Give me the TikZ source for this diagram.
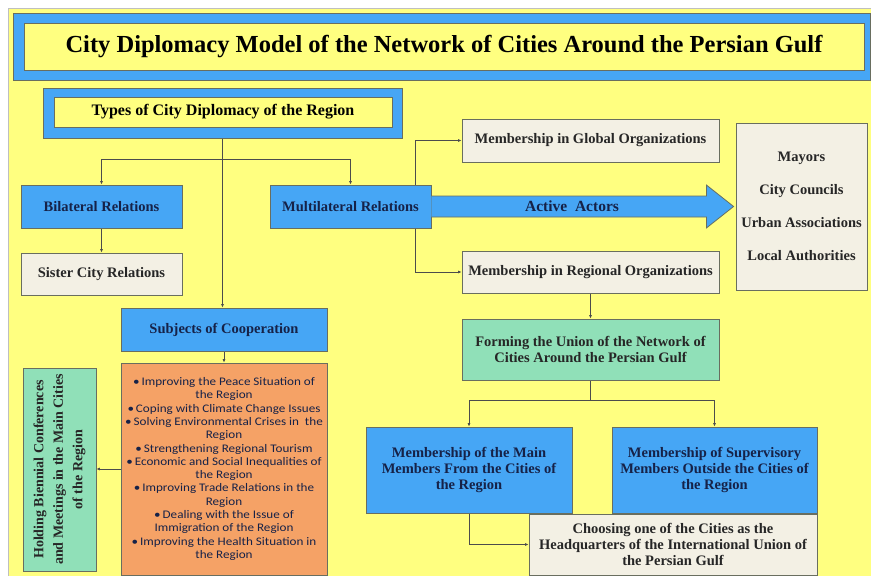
\documentclass[tikz,border=0pt]{standalone}
\usepackage{fontspec}
\setmainfont{Liberation Serif}
\newfontfamily\calfont[FakeStretch=1.13]{Carlito}
\usetikzlibrary{calc,arrows.meta}
\definecolor{bgyellow}{RGB}{255,255,128}
\definecolor{boxblue}{RGB}{70,166,245}
\definecolor{boxbeige}{RGB}{243,240,228}
\definecolor{boxgreen}{RGB}{144,224,184}
\definecolor{boxorange}{RGB}{245,162,102}
\definecolor{edgegray}{RGB}{105,110,95}
\definecolor{txtnavy}{RGB}{22,34,72}
\pgfdeclarelayer{back}
\pgfdeclarelayer{wires}
\pgfsetlayers{back,wires,main}
\tikzset{
	box/.style={draw=edgegray, line width=0.8pt, align=center, inner sep=2pt,
		font=\bfseries\fontsize{14.5}{16.3}\selectfont},
	bluebox/.style={box, fill=boxblue, text=txtnavy},
	beigebox/.style={box, fill=boxbeige, text=black!85},
	greenbox/.style={box, fill=boxgreen, text=black!85},
	yellowbox/.style={box, fill=bgyellow, text=black},
	wire/.style={draw=black!70, line width=0.7pt},
	arr/.style={wire, -{Latex[length=3.5pt,width=3pt]}}
}

\begin{document}
\begin{tikzpicture}[x=1pt,y=-1pt]
	\useasboundingbox (0,0) rectangle (871,576);
	\begin{pgfonlayer}{back}
		\fill[white] (0,0) rectangle (871,576);
		\fill[bgyellow] (8,8) rectangle (871,576);
		\draw[gray!50, line width=1pt] (8,576) -- (8,8) -- (871,8);
	\end{pgfonlayer}

	% title
	\node[box, fill=boxblue, minimum width=857, minimum height=67] (titleband) at (441.5,46.5) {};
	\node[yellowbox, minimum width=840, minimum height=47, font=\bfseries\fontsize{24.5}{28}\selectfont] (title) at (444,46.5)
		{City Diplomacy Model of the Network of Cities Around the Persian Gulf};

	% types
	\node[box, fill=boxblue, minimum width=359, minimum height=50] (typesband) at (222.5,113) {};
	\node[yellowbox, minimum width=338, minimum height=30, font=\bfseries\fontsize{16}{18}\selectfont] (types) at (223,112)
		{Types of City Diplomacy of the Region};

	\node[bluebox, minimum width=161, minimum height=43] (bilateral) at (101.5,206.5) {Bilateral Relations};
	\node[beigebox, minimum width=161, minimum height=42] (sister) at (101.5,274) {Sister City Relations};
	\node[bluebox, minimum width=161, minimum height=43] (multi) at (350.5,206.5) {Multilateral Relations};
	\node[beigebox, minimum width=257, minimum height=43] (global) at (590.5,140.5) {Membership in Global Organizations};
	\node[beigebox, minimum width=257, minimum height=42] (regional) at (590.5,272) {Membership in Regional Organizations};
	\node[beigebox, minimum width=131, minimum height=167, font=\bfseries\fontsize{14.5}{33}\selectfont] (actors) at (801.5,206.5)
		{Mayors\\City Councils\\Urban Associations\\Local Authorities};

	% active actors arrow
	\draw[draw=edgegray, line width=0.8pt, fill=boxblue]
		($(multi.east)+(0,-10.5)$) -- ++(275,0) -- ++(0,-11) -- ($(actors.west)+(-2,0)$)
		-- ($(multi.east)+(275,21.5)$) -- ++(0,-11) -- ($(multi.east)+(0,10.5)$);
	\node[text=txtnavy, font=\bfseries\fontsize{15.5}{17}\selectfont] (actlabel) at (572,206.5) {Active\ \ Actors};

	\node[bluebox, minimum width=206, minimum height=43] (subjects) at (224,329.5) {Subjects of Cooperation};
	\node[box, fill=boxorange, text=txtnavy, minimum width=206, minimum height=212, inner sep=0pt,
		font=\calfont\fontsize{11.6}{13.3}\selectfont] (topics) at (224,469)
		{\textbullet\,Improving the Peace Situation of\\the Region\\
		 \textbullet\,Coping with Climate Change Issues\\
		 \textbullet\,Solving Environmental Crises in\ \ the\\Region\\
		 \textbullet\,Strengthening Regional Tourism\\
		 \textbullet\,Economic and Social Inequalities of\\the Region\\
		 \textbullet\,Improving Trade Relations in the\\Region\\
		 \textbullet\,Dealing with the Issue of\\Immigration of the Region\\
		 \textbullet\,Improving the Health Situation in\\the Region};
	\node[greenbox, rotate=90, minimum width=203, minimum height=73, font=\bfseries\fontsize{14}{19.5}\selectfont] (holding) at (59.5,469.5)
		{Holding Biennial Conferences\\and Meetings in the Main Cities\\of the Region};

	\node[greenbox, minimum width=257, minimum height=61] (forming) at (590.5,349.5)
		{Forming the Union of the Network of\\Cities Around the Persian Gulf};
	\node[bluebox, minimum width=206, minimum height=86] (mainmem) at (469,470)
		{Membership of the Main\\Members From the Cities of\\the Region};
	\node[bluebox, minimum width=205, minimum height=86] (supmem) at (714.5,470)
		{Membership of Supervisory\\Members Outside the Cities of\\the Region};
	\node[beigebox, minimum width=288, minimum height=61] (choosing) at (673,544.5)
		{Choosing one of the Cities as the\\Headquarters of the International Union of\\the Persian Gulf};

	\begin{pgfonlayer}{wires}
		\coordinate (split) at ($(typesband.south)+(0,21)$);
		\draw[arr] (typesband.south) -- (typesband.south |- subjects.north);
		\draw[arr] (split) -| (bilateral.north);
		\draw[arr] (split) -| (multi.north);
		\draw[arr] (bilateral) -- (sister);
		\coordinate (mbr) at ($(multi.east)+(-16,0)$);
		\draw[arr] (mbr) |- (global.west);
		\draw[arr] (mbr) |- (regional.west);
		\draw[arr] (subjects) -- (topics);
		\draw[arr] (topics.west) -- (topics.west -| holding.south);
		\draw[arr] (regional) -- (forming);
		\coordinate (fsplit) at ($(forming.south)+(0,20)$);
		\draw[wire] (forming.south) -- (fsplit);
		\draw[arr] (fsplit) -| (mainmem.north);
		\draw[arr] (fsplit) -| (supmem.north);
		\draw[arr] (mainmem.south) |- (choosing.west);
	\end{pgfonlayer}
\end{tikzpicture}
\end{document}
